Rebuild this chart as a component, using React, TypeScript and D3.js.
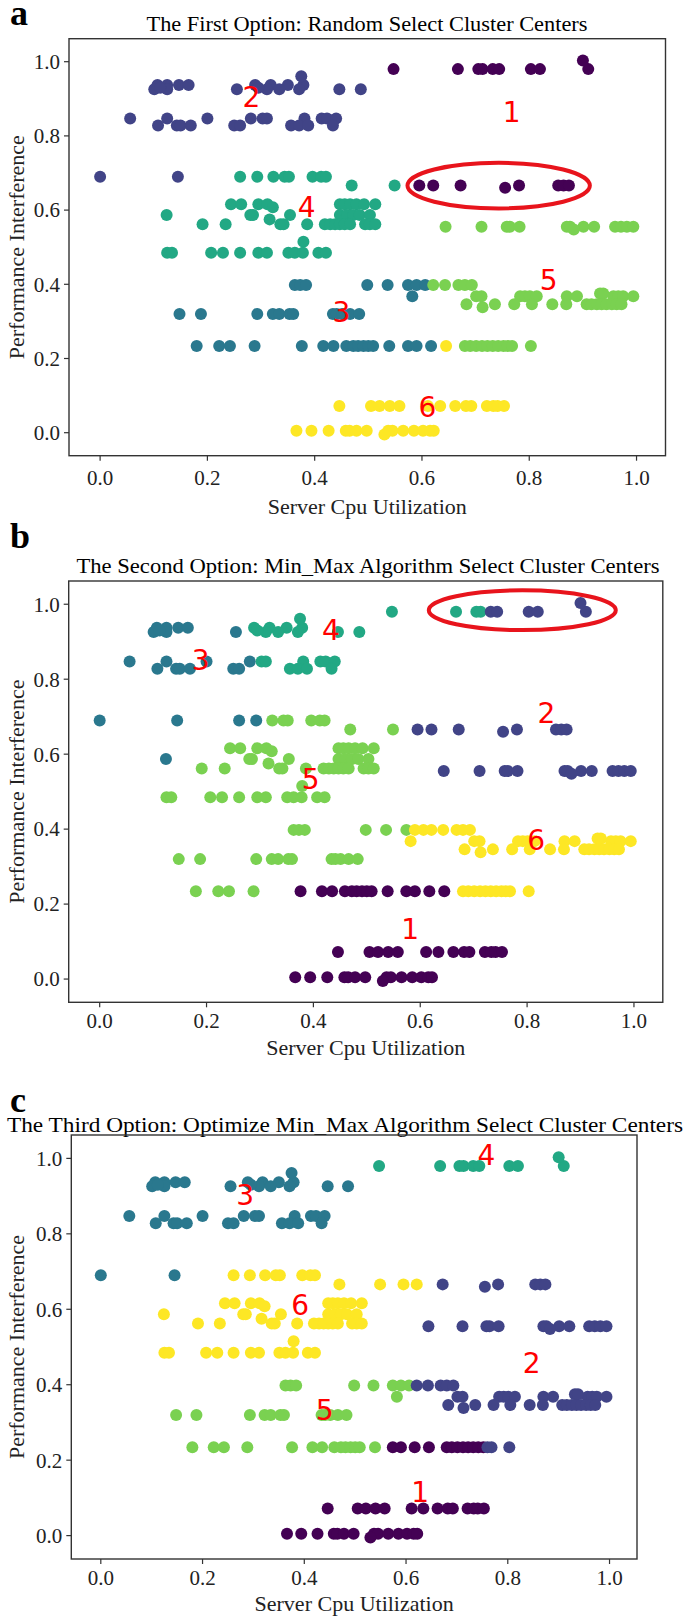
import React from "react";
import * as d3 from "d3";

type Pt = [number, number, number, number, number]; // x, y, cluster in a, b, c

const row = (y: number, xs: number[], k: [number, number, number]): Pt[] =>
  xs.map(x => [x, y, k[0], k[1], k[2]]);

// points, grouped by horizontal band
const band093: Pt[] = [
  ...row(0.937, [0.107, 0.125, 0.147, 0.165], [2, 3, 3]),
  ...row(0.926, [0.101, 0.125, 0.255], [2, 3, 3]),
  ...row(0.930, [0.112], [2, 3, 3]),
  ...row(0.937, [0.289, 0.318, 0.350, 0.379], [2, 4, 3]),
  ...row(0.926, [0.311, 0.334, 0.371, 0.446, 0.486], [2, 4, 3]),
  ...row(0.930, [0.295], [2, 4, 3]),
  ...row(0.961, [0.375], [2, 4, 3]),
];

const band084: Pt[] = [
  ...row(0.847, [0.056, 0.125, 0.200, 0.281], [2, 3, 3]),
  ...row(0.828, [0.108, 0.143, 0.150, 0.169, 0.250, 0.261], [2, 3, 3]),
  ...row(0.847, [0.303, 0.311, 0.381, 0.413, 0.423, 0.440], [2, 4, 3]),
  ...row(0.828, [0.356, 0.371, 0.388, 0.434], [2, 4, 3]),
];

const band069: Pt[] = [
  ...row(0.690, [0.0, 0.145], [2, 3, 3]),
  ...row(0.690, [0.261, 0.293], [4, 3, 6]),
  ...row(0.690, [0.323, 0.344, 0.352, 0.396, 0.412, 0.421], [4, 5, 6]),
  ...row(0.666, [0.469, 0.549], [4, 5, 6]),
  ...row(0.666, [0.595, 0.621], [1, 2, 6]),
  ...row(0.666, [0.672, 0.781, 0.854, 0.864, 0.874], [1, 2, 2]),
  ...row(0.660, [0.755], [1, 2, 2]),
];

const band058: Pt[] = [
  ...row(0.616, [0.244, 0.263, 0.295, 0.312, 0.447, 0.456, 0.466, 0.478, 0.492, 0.513], [4, 5, 6]),
  ...row(0.608, [0.322], [4, 5, 6]),
  ...row(0.587, [0.124], [4, 3, 6]),
  ...row(0.587, [0.280, 0.285, 0.354, 0.447, 0.460, 0.472, 0.484, 0.503], [4, 5, 6]),
  ...row(0.575, [0.316], [4, 5, 6]),
  ...row(0.562, [0.191, 0.234, 0.336, 0.342, 0.386, 0.419, 0.429, 0.438, 0.447, 0.456, 0.466, 0.494, 0.503, 0.513], [4, 5, 6]),
  ...row(0.555, [0.644, 0.711, 0.758, 0.764, 0.782, 0.870, 0.876, 0.901, 0.921, 0.960, 0.971, 0.982, 0.994], [5, 2, 2]),
  ...row(0.548, [0.883], [5, 2, 2]),
  ...row(0.515, [0.379], [4, 5, 6]),
  ...row(0.485, [0.125, 0.134, 0.207, 0.229, 0.261, 0.295, 0.311, 0.351, 0.363, 0.378, 0.407, 0.421], [4, 5, 6]),
];

const band036: Pt[] = [
  ...row(0.398, [0.363, 0.373, 0.384, 0.498, 0.536, 0.574], [3, 5, 5]),
  ...row(0.398, [0.590, 0.606], [3, 6, 5]),
  ...row(0.398, [0.621, 0.643, 0.668, 0.680, 0.693], [5, 6, 2]),
  ...row(0.368, [0.582], [3, 6, 5]),
  ...row(0.368, [0.701, 0.711, 0.783, 0.792, 0.801, 0.814, 0.870, 0.889, 0.957, 0.966, 0.975, 0.994], [5, 6, 2]),
  ...row(0.375, [0.932, 0.938], [5, 6, 2]),
  ...row(0.346, [0.683, 0.736, 0.772, 0.805, 0.843, 0.869, 0.907, 0.916, 0.926, 0.935, 0.944, 0.954, 0.963, 0.972], [5, 6, 2]),
  ...row(0.338, [0.713], [5, 6, 2]),
  ...row(0.320, [0.148, 0.188, 0.293, 0.322, 0.334, 0.353, 0.360, 0.434, 0.441, 0.451, 0.466, 0.483], [3, 5, 5]),
];

const band024: Pt[] = [
  ...row(0.234, [0.180, 0.222, 0.242, 0.288], [3, 5, 5]),
  ...row(0.234, [0.376, 0.416, 0.435, 0.459, 0.472, 0.481, 0.491, 0.500, 0.509, 0.539], [3, 1, 5]),
  ...row(0.234, [0.574, 0.590, 0.617], [3, 1, 1]),
  ...row(0.234, [0.645], [6, 1, 1]),
  ...row(0.234, [0.680, 0.690, 0.701, 0.712, 0.722, 0.732, 0.742, 0.752], [5, 6, 1]),
  ...row(0.234, [0.760, 0.768, 0.803], [5, 6, 2]),
];

const band000: Pt[] = [
  ...row(0.072, [0.446, 0.505, 0.521, 0.540, 0.558, 0.611, 0.634, 0.662, 0.682, 0.692, 0.721, 0.733, 0.741, 0.753], [6, 1, 1]),
  ...row(0.005, [0.366, 0.394, 0.426, 0.458, 0.465, 0.478, 0.497, 0.537, 0.545, 0.565, 0.585, 0.602, 0.615, 0.622], [6, 1, 1]),
  ...row(-0.005, [0.530], [6, 1, 1]),
];

const band098: Pt[] = [
  ...row(0.980, [0.547, 0.667, 0.705, 0.713], [1, 4, 4]),
  ...row(0.980, [0.732, 0.744, 0.803, 0.820, 0.910], [1, 2, 4]),
  ...row(1.003, [0.900], [1, 2, 4]),
];

const points: Pt[] = [...band093, ...band084, ...band069, ...band058, ...band036, ...band024, ...band000, ...band098];

const tickValues = [0, 0.2, 0.4, 0.6, 0.8, 1.0];
const titles = [
  "The First Option: Random Select Cluster Centers",
  "The Second Option: Min_Max Algorithm Select Cluster Centers",
  "The Third Option: Optimize Min_Max Algorithm Select Cluster Centers",
];
const letters = ["a", "b", "c"];

// red cluster numbers, in data units: [label, x, y]
const labelsA: [string, number, number][] = [["1", 0.767, 0.865], ["2", 0.282, 0.906], ["3", 0.45, 0.326], ["4", 0.385, 0.609], ["5", 0.836, 0.412], ["6", 0.61, 0.07]];
const labelsB: [string, number, number][] = [["1", 0.581, 0.135], ["2", 0.836, 0.709], ["3", 0.189, 0.851], ["4", 0.433, 0.931], ["5", 0.395, 0.535], ["6", 0.817, 0.371]];
const labelsC: [string, number, number][] = [["1", 0.628, 0.116], ["2", 0.847, 0.457], ["3", 0.284, 0.903], ["4", 0.758, 1.009], ["5", 0.44, 0.333], ["6", 0.392, 0.611]];

// red ellipses: cx, cy, rx, ry in data units
const ringsA = [[0.743, 0.666, 0.17, 0.0615]];
const ringsB = [[0.791, 0.984, 0.175, 0.053]];
const ringsC: number[][] = [];

const xDomain = [-0.058, 1.054];
const yDomain = [-0.062, 1.062];

const panels = [
  { left: 69, right: 665.5, top: 38.7, bottom: 455.7, titleX: 367, titleY: 31, titleLen: 441, letterY: 25, tickY: 485, xlabY: 514, labels: labelsA, rings: ringsA },
  { left: 68.7, right: 662.8, top: 581, bottom: 1002.3, titleX: 368, titleY: 573, titleLen: 583, letterY: 548, tickY: 1028, xlabY: 1055, labels: labelsB, rings: ringsB },
  { left: 71.3, right: 637, top: 1135, bottom: 1559, titleX: 345, titleY: 1132, titleLen: 676, letterY: 1112, tickY: 1585, xlabY: 1611, labels: labelsC, rings: ringsC },
];

const colour = d3.scaleSequential(d3.interpolateViridis).domain([1, 6]);
const fmt = d3.format(".1f");
const serif = "'Liberation Serif', 'Times New Roman', serif";

function Panel({ p, i }: { p: any; i: number }) {
  const x = d3.scaleLinear().domain(xDomain).range([p.left, p.right]);
  const y = d3.scaleLinear().domain(yDomain).range([p.bottom, p.top]);
  const midY = (p.top + p.bottom) / 2;
  const midX = (p.left + p.right) / 2;
  return (
    <g>
      <text x={10} y={p.letterY} fontFamily={serif} fontWeight="bold" fontSize={36}>{letters[i]}</text>
      <text x={p.titleX} y={p.titleY} textAnchor="middle" fontFamily={serif} fontSize={22}
        textLength={p.titleLen} lengthAdjust="spacingAndGlyphs">{titles[i]}</text>

      {points.map((d, j) => (
        <circle key={j} cx={x(d[0])} cy={y(d[1])} r={6} fill={colour(d[2 + i])} />
      ))}

      <rect x={p.left} y={p.top} width={p.right - p.left} height={p.bottom - p.top}
        fill="none" stroke="#333" strokeWidth={1.4} />

      {tickValues.map(t => (
        <g key={"x" + t}>
          <line x1={x(t)} x2={x(t)} y1={p.bottom} y2={p.bottom + 5} stroke="#333" strokeWidth={1.2} />
          <text x={x(t)} y={p.tickY} textAnchor="middle" fontFamily={serif} fontSize={21} fill="#222">{fmt(t)}</text>
        </g>
      ))}
      {tickValues.map(t => (
        <g key={"y" + t}>
          <line x1={p.left - 5} x2={p.left} y1={y(t)} y2={y(t)} stroke="#333" strokeWidth={1.2} />
          <text x={p.left - 9} y={y(t)} dy="0.35em" textAnchor="end" fontFamily={serif} fontSize={21} fill="#222">{fmt(t)}</text>
        </g>
      ))}

      <text x={midX} y={p.xlabY} textAnchor="middle" fontFamily={serif} fontSize={22} fill="#222">Server Cpu Utilization</text>
      <text transform={`translate(24,${midY}) rotate(-90)`} textAnchor="middle" fontFamily={serif} fontSize={22} fill="#222">Performance Interference</text>

      {p.rings.map((r: number[], j: number) => (
        <ellipse key={j} cx={x(r[0])} cy={y(r[1])} rx={x(r[2]) - x(0)} ry={y(0) - y(r[3])}
          fill="none" stroke="#e8141c" strokeWidth={4} />
      ))}
      {p.labels.map((l: [string, number, number]) => (
        <text key={l[0]} x={x(l[1])} y={y(l[2])} dy="0.36em" textAnchor="middle"
          fontFamily="'DejaVu Sans', sans-serif" fontSize={28} fill="#ff0000">{l[0]}</text>
      ))}
    </g>
  );
}

export default function App() {
  return (
    <div style={{ position: "absolute", left: 0, top: 0 }}>
      <svg width={685} height={1619} style={{ display: "block", background: "#fff" }}>
        {panels.map((p, i) => <Panel key={i} p={p} i={i} />)}
      </svg>
    </div>
  );
}
